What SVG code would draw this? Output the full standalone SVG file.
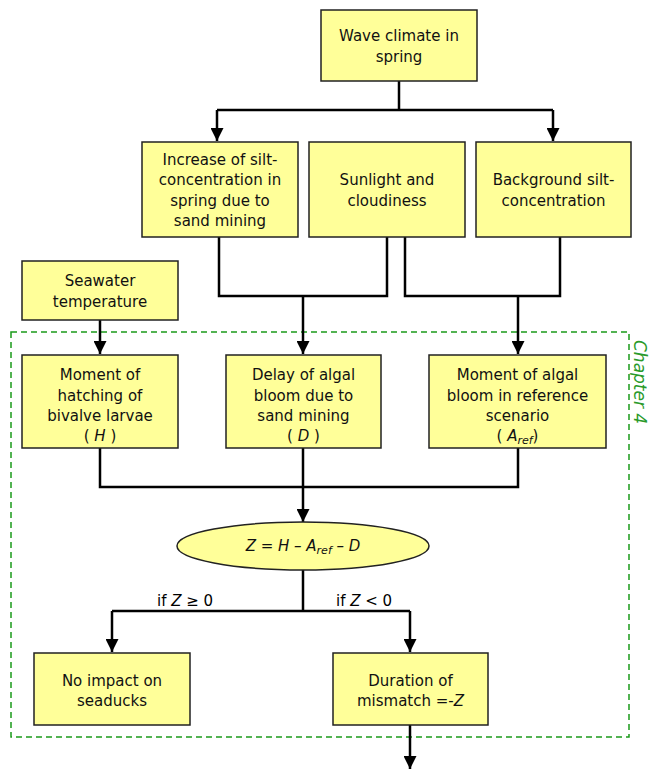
<svg xmlns="http://www.w3.org/2000/svg" width="651" height="769" viewBox="0 0 651 769">
<style>
.box{fill:#FFFF99;stroke:#222;stroke-width:1.5}
.t{font-family:"DejaVu Sans",sans-serif;font-size:15px;fill:#111;text-anchor:middle}
.lbl{font-family:"DejaVu Sans",sans-serif;font-size:15px;fill:#000}
.c{fill:none;stroke:#000;stroke-width:2.5}
.i{font-style:italic}
</style>
<defs>
<marker id="ah" markerUnits="userSpaceOnUse" markerWidth="13" markerHeight="13" viewBox="0 0 12 12" refX="12" refY="6" orient="auto">
<path d="M0,0 L12,6 L0,12 z" fill="#000"/>
</marker>
</defs>
<rect x="11" y="332" width="618" height="405" fill="none" stroke="#1a9a1a" stroke-width="1.5" stroke-dasharray="6,4"/>
<text transform="translate(634,340) rotate(90)" font-family="'DejaVu Sans',sans-serif" font-size="17" font-style="italic" fill="#2a9a2a">Chapter 4</text>
<g id="connectors">
<path class="c" d="M399,81 V110"/>
<path class="c" d="M217,110 H553"/>
<path class="c" d="M217,110 V141" marker-end="url(#ah)"/>
<path class="c" d="M553,110 V141" marker-end="url(#ah)"/>
<path class="c" d="M219,237 V296 H387 V237"/>
<path class="c" d="M405,237 V296 H560 V237"/>
<path class="c" d="M303,296 V354" marker-end="url(#ah)"/>
<path class="c" d="M518,296 V354" marker-end="url(#ah)"/>
<path class="c" d="M100,320 V354" marker-end="url(#ah)"/>
<path class="c" d="M100,448 V487 H518 V448"/>
<path class="c" d="M303,448 V522" marker-end="url(#ah)"/>
<path class="c" d="M303,570 V611"/>
<path class="c" d="M112,611 H410"/>
<path class="c" d="M112,611 V652" marker-end="url(#ah)"/>
<path class="c" d="M410,611 V652" marker-end="url(#ah)"/>
<path class="c" d="M410,725 V769" marker-end="url(#ah)"/>
<text class="lbl" x="157" y="606">if <tspan class="i">Z</tspan> ≥ 0</text>
<text class="lbl" x="336" y="606">if <tspan class="i">Z</tspan> &lt; 0</text>
</g>
<g id="wave">
<rect class="box" x="321" y="10" width="156" height="71"/>
<text class="t" x="399" y="41">Wave climate in</text>
<text class="t" x="399" y="61.5">spring</text>
</g>
<g id="increase">
<rect class="box" x="142" y="142" width="156" height="95"/>
<text class="t" x="220" y="164.5">Increase of silt-</text>
<text class="t" x="220" y="185">concentration in</text>
<text class="t" x="220" y="205.5">spring due to</text>
<text class="t" x="220" y="225.5">sand mining</text>
</g>
<g id="sunlight">
<rect class="box" x="309" y="142" width="156" height="95"/>
<text class="t" x="387" y="185">Sunlight and</text>
<text class="t" x="387" y="205.5">cloudiness</text>
</g>
<g id="background">
<rect class="box" x="476" y="142" width="155" height="95"/>
<text class="t" x="553.5" y="185">Background silt-</text>
<text class="t" x="553.5" y="205.5">concentration</text>
</g>
<g id="seawater">
<rect class="box" x="22" y="261" width="156" height="59"/>
<text class="t" x="100" y="286">Seawater</text>
<text class="t" x="100" y="306.5">temperature</text>
</g>
<g id="hatching">
<rect class="box" x="22" y="355" width="156" height="93"/>
<text class="t" x="100" y="380">Moment of</text>
<text class="t" x="100" y="400.5">hatching of</text>
<text class="t" x="100" y="420.5">bivalve larvae</text>
<text class="t" x="100" y="441">( <tspan class="i">H</tspan> )</text>
</g>
<g id="delay">
<rect class="box" x="226" y="355" width="155" height="93"/>
<text class="t" x="303.5" y="380">Delay of algal</text>
<text class="t" x="303.5" y="400.5">bloom due to</text>
<text class="t" x="303.5" y="420.5">sand mining</text>
<text class="t" x="303.5" y="441">( <tspan class="i">D</tspan> )</text>
</g>
<g id="reference">
<rect class="box" x="429" y="355" width="177" height="93"/>
<text class="t" x="517.5" y="380">Moment of algal</text>
<text class="t" x="517.5" y="400.5">bloom in reference</text>
<text class="t" x="517.5" y="420.5">scenario</text>
<text class="t" x="517.5" y="441">( <tspan class="i">A</tspan><tspan class="i" font-size="11" dy="3">ref</tspan><tspan dy="-3">)</tspan></text>
</g>
<g id="formula">
<ellipse cx="303" cy="546" rx="126" ry="24" fill="#FFFF99" stroke="#222" stroke-width="1.5"/>
<text class="t i" x="303" y="551">Z = H – A<tspan font-size="11" dy="3">ref</tspan><tspan dy="-3"> – D</tspan></text>
</g>
<g id="noimpact">
<rect class="box" x="34" y="653" width="156" height="72"/>
<text class="t" x="112" y="685.5">No impact on</text>
<text class="t" x="112" y="706">seaducks</text>
</g>
<g id="duration">
<rect class="box" x="333" y="653" width="155" height="72"/>
<text class="t" x="410.5" y="685.5">Duration of</text>
<text class="t" x="410.5" y="706">mismatch =-<tspan class="i">Z</tspan></text>
</g>
</svg>
